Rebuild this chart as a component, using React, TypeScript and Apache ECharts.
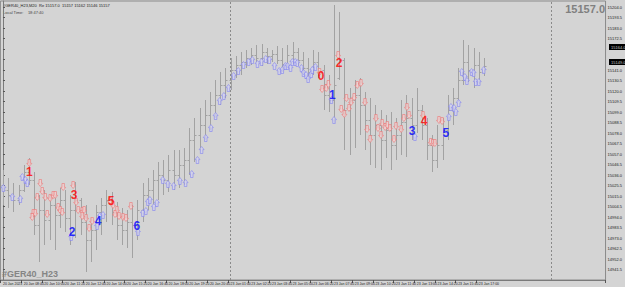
import React, { useEffect, useRef } from 'react';
import * as echarts from 'echarts';

const timeLabels = [
  '20 Jan 2023', '20 Jan 08:40', '20 Jan 10:00', '20 Jan 11:20', '20 Jan 12:40', '20 Jan 14:00',
  '20 Jan 15:20', '20 Jan 16:40', '20 Jan 18:00', '20 Jan 19:20', '20 Jan 20:40', '23 Jan 01:00',
  '23 Jan 02:20', '23 Jan 03:40', '23 Jan 05:00', '23 Jan 06:20', '23 Jan 07:40', '23 Jan 09:00',
  '23 Jan 10:20', '23 Jan 11:40', '23 Jan 13:00', '23 Jan 14:20', '23 Jan 15:40', '23 Jan 17:00',
];
const slotCount = 117;
const labelEvery = 4;
const daySeparators = [44, 106];

const barOpen = [
  15026, 15021, 15016, 15011, 15021, 15039, 15031, 14986, 15001, 14991,
  15006, 14996, 15011, 14993, 15001, 15011, 14989, 14971, 14981, 14999,
  15006, 15011, 14999, 14986, 14981, 14989, 14986, 15001, 15016, 15021,
  15031, 15036, 15031, 15041, 15036, 15046, 15051, 15071, 15076, 15086,
  15096, 15106, 15116, 15126, 15131, 15141, 15146, 15149, 15153, 15156,
  15153, 15159, 15155, 15157, 15151, 15147, 15156, 15159, 15151, 15143,
  15139, 15149, 15141, 15116, 15111, 15133, 15151, 15101, 15111, 15116,
  15106, 15091, 15076, 15086, 15071, 15081, 15066, 15076, 15089, 15093,
  15086, 15101, 15086, 15066, 15051, 15066, 15081, 15101, 15113, 15131,
  15149, 15141, 15146, 15139,
];
const barClose = [
  15021, 15016, 15011, 15021, 15039, 15031, 14986, 15001, 14991, 15006,
  14996, 15011, 14993, 15001, 15011, 14989, 14971, 14981, 14999, 15006,
  15011, 14999, 14986, 14981, 14989, 14986, 15001, 15016, 15021, 15031,
  15036, 15031, 15041, 15036, 15046, 15051, 15071, 15076, 15086, 15096,
  15106, 15116, 15126, 15131, 15141, 15146, 15149, 15153, 15156, 15153,
  15159, 15155, 15157, 15151, 15147, 15156, 15159, 15151, 15143, 15139,
  15149, 15141, 15116, 15111, 15126, 15151, 15101, 15111, 15116, 15106,
  15091, 15076, 15086, 15071, 15081, 15066, 15076, 15089, 15093, 15086,
  15101, 15086, 15066, 15051, 15066, 15081, 15101, 15113, 15131, 15149,
  15141, 15146, 15139, 15145,
];
const barLow = [
  15006, 15003, 14999, 15006, 15019, 15026, 14976, 14949, 14966, 14971,
  14961, 14983, 14979, 14966, 14973, 14976, 14939, 14949, 14961, 14976,
  14989, 14986, 14971, 14966, 14963, 14953, 14971, 14989, 15001, 15006,
  15011, 15016, 15019, 15021, 15023, 15026, 15036, 15049, 15061, 15071,
  15081, 15093, 15106, 15113, 15121, 15133, 15136, 15143, 15146, 15148,
  15145, 15147, 15149, 15147, 15139, 15143, 15147, 15145, 15137, 15131,
  15136, 15133, 15101, 15099, 15088, 15131, 15061, 15056, 15063, 15076,
  15061, 15046, 15043, 15041, 15053, 15041, 15051, 15056, 15054, 15071,
  15078, 15071, 15051, 15039, 15043, 15051, 15071, 15086, 15109, 15126,
  15129, 15123, 15127, 15135,
];
const barHigh = [
  15041, 15033, 15028, 15026, 15046, 15053, 15039, 15016, 15021, 15016,
  15016, 15023, 15021, 15016, 15029, 15013, 15006, 14993, 15006, 15013,
  15021, 15019, 15009, 15003, 15001, 15006, 15011, 15028, 15033, 15041,
  15049, 15051, 15056, 15061, 15061, 15063, 15083, 15093, 15103, 15111,
  15119, 15131, 15139, 15143, 15153, 15155, 15159, 15161, 15163, 15166,
  15167, 15163, 15161, 15165, 15163, 15166, 15169, 15163, 15159, 15153,
  15161, 15159, 15146, 15136, 15206, 15199, 15153, 15123, 15131, 15133,
  15119, 15113, 15106, 15101, 15096, 15099, 15093, 15111, 15116, 15113,
  15123, 15106, 15093, 15076, 15086, 15093, 15116, 15123, 15143, 15171,
  15166, 15163, 15159, 15153,
];

const upArrows = [
  [0.08, 15023], [1.81, 15014], [3.35, 15012], [3.74, 15034], [4.32, 15031], [4.7, 15028],
  [13.18, 14974], [18.19, 14985], [18.77, 14995], [19.34, 14996], [26.09, 14979], [27.05, 14998],
  [27.63, 15000], [28.02, 15009], [28.4, 15011], [29.17, 15004], [29.75, 15008],
  [30.9, 15031], [31.9, 15027], [33.0, 15025], [34.2, 15030], [35.3, 15028], [36.5, 15037],
  [37.6, 15051], [38.4, 15061], [39.2, 15073], [40.2, 15083], [41.1, 15095], [41.9, 15110],
  [42.7, 15115], [43.6, 15123], [44.6, 15135], [45.5, 15140], [46.5, 15146], [47.5, 15149],
  [48.2, 15151], [49.2, 15147], [50.0, 15149], [50.8, 15152], [51.5, 15151], [52.5, 15145],
  [53.4, 15140], [54.0, 15141], [54.6, 15145], [55.0, 15145], [55.6, 15143], [55.95, 15149],
  [56.5, 15149], [56.9, 15148], [57.7, 15143], [58.1, 15138], [58.6, 15136], [59.0, 15132],
  [59.6, 15137], [59.8, 15141], [60.4, 15144], [63.5, 15111], [64.0, 15091], [79.65, 15074],
  [86.2, 15094], [86.6, 15104], [87.2, 15103], [87.55, 15099], [88.1, 15108], [88.7, 15139],
  [89.3, 15134], [89.7, 15130], [90.6, 15139], [91.0, 15138], [91.4, 15129], [92.0, 15129],
  [92.95, 15141],
];
const downArrows = [
  [5.09, 15048], [7.21, 15028], [7.59, 15020], [6.63, 15014], [8.17, 15014], [9.13, 15013],
  [9.71, 15016], [10.1, 15016], [11.64, 15024], [13.56, 15026], [14.14, 15009], [5.86, 14998],
  [5.66, 14994], [6.24, 14998], [8.55, 14997], [10.67, 15004], [11.06, 15001], [11.45, 14999],
  [14.53, 15001], [15.3, 15000], [15.68, 15001], [15.3, 14995], [16.07, 14993], [17.23, 14990],
  [16.65, 14983], [20.69, 15010], [21.27, 15006], [22.04, 15001], [21.66, 14997], [22.43, 14995],
  [23.2, 14994], [23.78, 14993], [24.74, 15005],
  [61.2, 15139], [61.7, 15122], [62.5, 15123], [62.9, 15127], [64.8, 15156], [68.5, 15126],
  [69.2, 15128], [66.4, 15113], [67.3, 15109], [67.9, 15114], [70.0, 15109], [65.4, 15102],
  [66.0, 15097], [66.9, 15103], [70.4, 15082], [71.0, 15072], [72.1, 15093], [72.5, 15083],
  [73.3, 15088], [73.9, 15084], [74.3, 15086], [74.8, 15083], [73.1, 15076], [75.6, 15072],
  [76.0, 15085], [77.0, 15082], [77.5, 15093], [78.1, 15104], [78.5, 15096], [81.2, 15096],
  [82.7, 15069], [83.1, 15068], [83.5, 15068], [84.3, 15091], [84.9, 15090],
];

const redWaveLabels = [
  ['1', 5.09, 15039], ['3', 13.76, 15016], ['5', 20.89, 15010],
  ['0', 61.5, 15135], ['2', 65.0, 15148], ['4', 81.4, 15090],
];
const blueWaveLabels = [
  ['2', 13.37, 14979], ['4', 18.38, 14990], ['6', 25.9, 14985],
  ['1', 63.7, 15116], ['3', 79.1, 15080], ['5', 85.6, 15078],
];

const highlightLevels = [15164, 15149];
const currentPrice = '15157.0';
const yMin = 14931;
const yMax = 15210;
const yStep = 10.5;

const FONT = 'Liberation Sans, Arial, sans-serif';
const UP_PATH = 'path://M4,0 L8,4 L6,4 L6,9 L2,9 L2,4 L0,4 Z';
const DOWN_PATH = 'path://M2,0 L6,0 L6,5 L8,5 L4,9 L0,5 L2,5 Z';

export default function App() {
  const ref = useRef<HTMLDivElement>(null);
  useEffect(() => {
    if (!ref.current) return;
    const chart = echarts.init(ref.current, undefined, { renderer: 'svg' });
    const categories = Array.from({ length: slotCount }, (_, i) =>
      i % labelEvery === 0 && i / labelEvery < timeLabels.length ? timeLabels[i / labelEvery] : ''
    );
    const lastLabelIdx = (timeLabels.length - 1) * labelEvery;
    const barData = barOpen.map((o, i) => [i, o, barClose[i], barLow[i], barHigh[i]]);
    const labelSeries = (arr: any[], color: string) => ({
      type: 'scatter',
      xAxisIndex: 1,
      symbol: 'circle',
      symbolSize: 0.1,
      itemStyle: { color: 'rgba(0,0,0,0)' },
      silent: true,
      z: 5,
      label: {
        show: true,
        position: 'inside',
        formatter: '{b}',
        color,
        fontSize: 12,
        fontWeight: 'bold',
        fontFamily: FONT,
      },
      data: arr.map((d) => ({ name: d[0], value: [d[1], d[2]] })),
    });
    const baseGraphic: any[] = [
      {
        id: 'hdr1', type: 'text', left: 3, top: 3, silent: true,
        style: {
          text: '#GER40_H23,M20  Re 15157.0  15157 15162 15146 15157',
          fontSize: 4, fill: '#222', fontFamily: FONT,
        },
      },
      {
        id: 'hdr2', type: 'text', left: 3, top: 10, silent: true,
        style: { text: 'Local Time:    18:47:40', fontSize: 4, fill: '#444', fontFamily: FONT },
      },
      {
        id: 'sym', type: 'text', left: 2, top: 269, silent: true,
        style: { text: '#GER40_H23', fontSize: 9, fontWeight: 'bold', fill: '#858585', fontFamily: FONT },
      },
      {
        id: 'price', type: 'text', right: 20, top: 3, silent: true,
        style: { text: currentPrice, fontSize: 11, fontWeight: 'bold', fill: '#808080', fontFamily: FONT },
      },
    ];
    chart.setOption({
      animation: false,
      backgroundColor: '#d4d4d4',
      grid: {
        left: 0, right: 18, top: 1, bottom: 7,
        show: true, borderColor: '#8a8a8a', borderWidth: 1,
      },
      xAxis: [
        {
          type: 'category',
          data: categories,
          boundaryGap: true,
          axisLine: { lineStyle: { color: '#7a7a7a' } },
          axisTick: {
            show: true,
            length: 3,
            interval: (idx: number) => idx % labelEvery === 0 && idx <= lastLabelIdx,
            lineStyle: { color: '#555' },
          },
          axisLabel: {
            interval: 0,
            align: 'left',
            fontSize: 3.5,
            color: '#222',
            margin: 2,
            fontFamily: FONT,
          },
          splitLine: { show: false },
        },
        { type: 'value', min: -0.5, max: slotCount - 0.5, show: false },
      ],
      yAxis: {
        type: 'value',
        position: 'right',
        min: yMin,
        max: yMax,
        interval: yStep,
        axisLine: { show: true, lineStyle: { color: '#7a7a7a' } },
        axisTick: { show: true, length: 2, lineStyle: { color: '#555' } },
        axisLabel: {
          fontSize: 4,
          color: '#222',
          margin: 2,
          fontFamily: FONT,
          showMinLabel: false,
          showMaxLabel: false,
          formatter: (v: number) =>
            highlightLevels.some((h) => Math.abs(h - v) < 6) ? '' : v.toFixed(1),
        },
        splitLine: { show: false },
      },
      series: [
        {
          type: 'custom',
          xAxisIndex: 0,
          encode: { x: 0, y: [1, 2, 3, 4] },
          data: barData,
          silent: true,
          z: 2,
          renderItem: (params: any, api: any) => {
            const idx = api.value(0);
            const pO = api.coord([idx, api.value(1)]);
            const pC = api.coord([idx, api.value(2)]);
            const pL = api.coord([idx, api.value(3)]);
            const pH = api.coord([idx, api.value(4)]);
            const x = Math.round(pO[0]) + 0.5;
            const yo = Math.round(pO[1]) + 0.5;
            const yc = Math.round(pC[1]) + 0.5;
            const style = { stroke: '#a2a2a2', lineWidth: 1 };
            return {
              type: 'group',
              children: [
                { type: 'line', shape: { x1: x, y1: pH[1], x2: x, y2: pL[1] }, style },
                { type: 'line', shape: { x1: x - 2, y1: yo, x2: x, y2: yo }, style },
                { type: 'line', shape: { x1: x, y1: yc, x2: x + 2, y2: yc }, style },
              ],
            };
          },
        },
        {
          type: 'scatter',
          xAxisIndex: 1,
          symbol: UP_PATH,
          symbolSize: [5, 7],
          silent: true,
          z: 3,
          itemStyle: { color: '#d2d2ee', borderColor: '#8080f0', borderWidth: 0.7 },
          data: upArrows,
          markLine: {
            silent: true,
            symbol: ['none', 'none'],
            label: { show: false },
            lineStyle: { color: '#8a8a8a', type: [2, 2], width: 1 },
            data: daySeparators.map((d) => ({ xAxis: d })),
          },
        },
        {
          type: 'scatter',
          xAxisIndex: 1,
          symbol: DOWN_PATH,
          symbolSize: [5, 7],
          silent: true,
          z: 3,
          itemStyle: { color: '#efd0d0', borderColor: '#ee7272', borderWidth: 0.7 },
          data: downArrows,
        },
        labelSeries(redWaveLabels, '#ff0000'),
        labelSeries(blueWaveLabels, '#0000ff'),
      ],
      graphic: baseGraphic,
    });
    const axisX = 607;
    const hl = highlightLevels.map((v, i) => {
      const y = chart.convertToPixel({ yAxisIndex: 0 }, v) as number;
      return {
        id: 'hl' + i,
        type: 'text',
        x: axisX + 2,
        y: y,
        silent: true,
        z: 10,
        style: {
          text: v.toFixed(1),
          fontSize: 4,
          fill: '#c8c8c8',
          backgroundColor: '#000',
          padding: [1, 2],
          fontFamily: FONT,
          verticalAlign: 'middle',
          align: 'left',
        },
      };
    });
    chart.setOption({ graphic: [...baseGraphic, ...hl] });
    return () => chart.dispose();
  }, []);
  return (
    <div
      ref={ref}
      style={{ position: 'fixed', left: 0, top: 0, width: 625, height: 287, background: '#d4d4d4' }}
    />
  );
}
